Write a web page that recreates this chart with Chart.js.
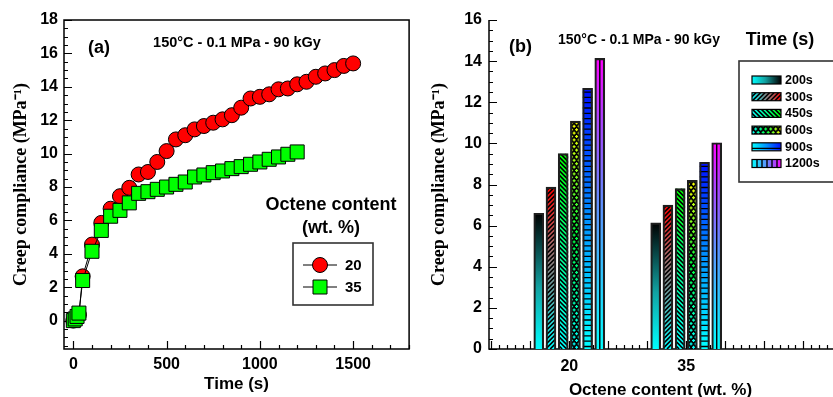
<!DOCTYPE html>
<html>
<head>
<meta charset="utf-8">
<script src="https://cdn.jsdelivr.net/npm/chart.js@4.4.1/dist/chart.umd.min.js"></script>
<style>
  html, body { margin: 0; padding: 0; background: #fff; }
  #wrap { position: relative; width: 833px; height: 397px; overflow: hidden; }
  #a { position: absolute; left: 0; top: 0; }
  #b { position: absolute; left: 420px; top: 0; }
</style>
</head>
<body>
<div id="wrap">
  <canvas id="a" width="420" height="397"></canvas>
  <canvas id="b" width="413" height="397"></canvas>
</div>
<script>
// ---- panel (a): creep compliance vs time ----
const time20 = [0, 10, 20, 30, 50, 100, 150, 200, 250, 300, 350, 400, 450, 500, 550, 600, 650, 700, 750,
  800, 850, 900, 950, 1000, 1050, 1100, 1150, 1200, 1250, 1300, 1350, 1400, 1450, 1500];
const comp20 = [0.0, 0.1, 0.2, 0.35, 2.65, 4.55, 5.85, 6.7, 7.45, 7.95, 8.75, 8.9, 9.5, 10.15, 10.85, 11.1,
  11.45, 11.65, 11.85, 12.05, 12.3, 12.75, 13.3, 13.4, 13.55, 13.85, 13.9, 14.15, 14.3, 14.6, 14.8, 15.0, 15.25, 15.4];
const time35 = [0, 10, 20, 30, 50, 100, 150, 200, 250, 300, 350, 400, 450, 500, 550, 600, 650, 700, 750,
  800, 850, 900, 950, 1000, 1050, 1100, 1150, 1200];
const comp35 = [0.0, 0.1, 0.25, 0.45, 2.4, 4.15, 5.4, 6.25, 6.6, 7.05, 7.62, 7.72, 7.86, 8.0, 8.16, 8.3,
  8.6, 8.72, 8.86, 8.96, 9.1, 9.22, 9.36, 9.5, 9.66, 9.8, 9.96, 10.1];
const xTicksA = [0, 500, 1000, 1500];
const yTicksA = [0, 2, 4, 6, 8, 10, 12, 14, 16, 18];

// ---- panel (b): compliance at fixed times ----
const octene = [20, 35];
const timeLabels = ['200s', '300s', '450s', '600s', '900s', '1200s'];
const bars20 = [6.6, 7.87, 9.5, 11.08, 12.68, 14.13];
const bars35 = [6.13, 7.0, 7.8, 8.2, 9.08, 10.03];
const yTicksB = [0, 2, 4, 6, 8, 10, 12, 14, 16];

const FONT = "'Liberation Sans', Arial, sans-serif";
const SERIF = "'Liberation Serif', 'Times New Roman', serif";
const YTITLE = 'Creep compliance (MPa\u207B\u00B9)';
Chart.defaults.font.family = FONT;
Chart.defaults.color = '#000';

// fill styles, gradient stops listed bottom (0) -> top (1)
const fills = [
  { kind: 'plain', stops: [[0, '#00ffff'], [0.45, '#12a2a2'], [0.8, '#063a3a'], [1, '#000000']] },
  { kind: 'fwd', stops: [[0, '#00ffff'], [0.4, '#6a9898'], [0.65, '#a86a6a'], [1, '#ff0000']] },
  { kind: 'back', stops: [[0, '#00ffff'], [0.5, '#00ff90'], [1, '#00ff00']] },
  { kind: 'dots', stops: [[0, '#00ffff'], [0.5, '#00ff40'], [1, '#ffff00']] },
  { kind: 'hlines', stops: [[0, '#00ffff'], [0.5, '#0090ff'], [1, '#0010ff']] },
  { kind: 'vlines', stops: [[0, '#00ffff'], [0.5, '#6090ff'], [0.8, '#b040ff'], [1, '#ff00ff']] }
];

function paintFill(g, st, x, y, w, h, horiz) {
  if (h <= 0 || w <= 0) return;
  g.save();
  g.beginPath();
  g.rect(x, y, w, h);
  g.clip();
  const grd = horiz ? g.createLinearGradient(x, 0, x + w, 0) : g.createLinearGradient(0, y + h, 0, y);
  st.stops.forEach(s => grd.addColorStop(s[0], s[1]));
  g.fillStyle = st.kind === 'dots' ? '#000' : grd;
  g.fillRect(x, y, w, h);
  g.strokeStyle = '#000';
  g.beginPath();
  if (st.kind === 'fwd' || st.kind === 'back') {
    g.lineWidth = 1.6;
    for (let k = -h - 5; k < w + h + 5; k += 4.5) {
      if (st.kind === 'fwd') { g.moveTo(x + k, y + h); g.lineTo(x + k + h, y); }
      else { g.moveTo(x + k, y); g.lineTo(x + k + h, y + h); }
    }
    g.stroke();
  } else if (st.kind === 'hlines') {
    g.lineWidth = 1.3;
    for (let yy = y + h - 2.5; yy > y + 2; yy -= 5.3) { g.moveTo(x, yy); g.lineTo(x + w, yy); }
    g.stroke();
  } else if (st.kind === 'vlines') {
    g.lineWidth = 1.4;
    for (let xx = x + 5; xx < x + w - 1; xx += 5) { g.moveTo(xx, y); g.lineTo(xx, y + h); }
    g.stroke();
  } else if (st.kind === 'dots') {
    g.fillStyle = grd;
    let row = 0;
    for (let yy = y + h - 1.7; yy > y - 2; yy -= 3.4, row++) {
      for (let xx = x + (row % 2 ? 3.7 : 1.2); xx < x + w + 2; xx += 5) {
        g.fillRect(xx - 1.5, yy - 0.6, 3, 1.2);
        g.fillRect(xx - 0.6, yy - 1.5, 1.2, 3);
      }
    }
  }
  g.restore();
}

// inward tick marks and axis frame
const frameTicks = {
  id: 'frameTicks',
  beforeDatasetsDraw(chart, args, o) {
    const g = chart.ctx, a = chart.chartArea;
    const xs = chart.scales.x, ys = chart.scales.y;
    g.save();
    g.strokeStyle = '#000';
    g.lineWidth = 1.2;
    g.beginPath();
    const n = Math.round((o.x.to - o.x.from) / o.x.minor);
    for (let k = 0; k <= n; k++) {
      const v = o.x.from + k * o.x.minor;
      const major = Math.abs(v / o.x.major - Math.round(v / o.x.major)) < 1e-6;
      const p = Math.round(xs.getPixelForValue(v)) + 0.5;
      g.moveTo(p, a.bottom);
      g.lineTo(p, a.bottom - (major ? 8 : 4));
    }
    const m = Math.round((o.y.to - o.y.from) / o.y.minor);
    for (let k = 0; k <= m; k++) {
      const v = o.y.from + k * o.y.minor;
      const major = Math.abs(v / o.y.major - Math.round(v / o.y.major)) < 1e-6;
      const p = Math.round(ys.getPixelForValue(v)) + 0.5;
      g.moveTo(a.left, p);
      g.lineTo(a.left + (major ? 8 : 4), p);
    }
    g.stroke();
    g.lineWidth = 1.5;
    g.beginPath();
    if (o.box) {
      g.rect(a.left, a.top, a.right - a.left, a.bottom - a.top);
    } else {
      g.moveTo(a.left, a.top);
      g.lineTo(a.left, a.bottom);
      g.lineTo(a.right + 2, a.bottom);
    }
    g.stroke();
    g.restore();
  }
};

const notes = {
  id: 'notes',
  afterDraw(chart, args, o) {
    const g = chart.ctx;
    g.save();
    g.fillStyle = '#000';
    g.textBaseline = 'middle';
    o.items.forEach(t => {
      g.font = 'bold ' + t.size + 'px ' + FONT;
      g.textAlign = t.align || 'center';
      g.fillText(t.text, t.x, t.y);
    });
    g.restore();
  }
};

const legendA = {
  id: 'legendA',
  afterDraw(chart, args, o) {
    const g = chart.ctx;
    g.save();
    g.fillStyle = '#000';
    g.textAlign = 'center';
    g.textBaseline = 'middle';
    g.font = 'bold 18px ' + FONT;
    g.fillText('Octene content', o.cx, o.t1);
    g.fillText('(wt. %)', o.cx, o.t2);
    g.strokeStyle = '#333';
    g.lineWidth = 1.6;
    g.strokeRect(o.box[0], o.box[1], o.box[2], o.box[3]);
    chart.data.datasets.forEach((ds, i) => {
      const yy = o.rows[i];
      g.strokeStyle = '#000';
      g.lineWidth = 1;
      g.beginPath();
      g.moveTo(o.lx0, yy);
      g.lineTo(o.lx1, yy);
      g.stroke();
      const mx = (o.lx0 + o.lx1) / 2;
      g.fillStyle = ds.pointBackgroundColor;
      g.beginPath();
      if (ds.pointStyle === 'rect') g.rect(mx - 7, yy - 7, 14, 14);
      else g.arc(mx, yy, 7.5, 0, Math.PI * 2);
      g.fill();
      g.stroke();
      g.fillStyle = '#000';
      g.textAlign = 'left';
      g.font = 'bold 15px ' + FONT;
      g.fillText(ds.label, o.tx, yy + 1);
    });
    g.restore();
  }
};

const chartA = new Chart(document.getElementById('a'), {
  type: 'line',
  data: {
    datasets: [
      {
        label: '20',
        data: time20.map((t, i) => ({ x: t, y: comp20[i] })),
        order: 1,
        borderColor: '#000', borderWidth: 1, tension: 0, fill: false,
        pointStyle: 'circle', pointRadius: 7.5,
        pointBackgroundColor: '#ff0000', pointBorderColor: '#000', pointBorderWidth: 1
      },
      {
        label: '35',
        data: time35.map((t, i) => ({ x: t, y: comp35[i] })),
        order: 0,
        borderColor: '#000', borderWidth: 1, tension: 0, fill: false,
        pointStyle: 'rect', pointRadius: 9.9,
        pointBackgroundColor: '#00ff00', pointBorderColor: '#000', pointBorderWidth: 1
      }
    ]
  },
  options: {
    responsive: false,
    animation: false,
    events: [],
    layout: { padding: { left: 0, top: 20, right: 5, bottom: 0 } },
    plugins: {
      legend: { display: false },
      tooltip: { enabled: false },
      frameTicks: { box: true, x: { from: 0, to: 1800, minor: 100, major: 500 }, y: { from: -1.5, to: 18, minor: 0.5, major: 2 } },
      notes: { items: [
        { text: '(a)', x: 99, y: 48, size: 18 },
        { text: '150\u00B0C - 0.1 MPa - 90 kGy', x: 237, y: 43, size: 14.5 }
      ] },
      legendA: { cx: 331, t1: 205, t2: 228, box: [293, 243, 80, 62], rows: [265, 287], lx0: 303, lx1: 337, tx: 345 }
    },
    scales: {
      x: {
        type: 'linear', min: -50, max: 1800,
        afterBuildTicks: s => { s.ticks = xTicksA.map(v => ({ value: v })); },
        afterFit: s => { s.height = 48; },
        grid: { display: false, drawTicks: false },
        border: { display: false },
        ticks: { font: { size: 16, weight: 'bold' }, padding: 6.4, maxRotation: 0, autoSkip: false, callback: v => String(v) },
        title: { display: true, text: 'Time (s)', font: { size: 17, weight: 'bold', lineHeight: 1.2 }, padding: { top: 0, bottom: 2.8 } }
      },
      y: {
        type: 'linear', min: -1.7, max: 18,
        afterBuildTicks: s => { s.ticks = yTicksA.map(v => ({ value: v })); },
        afterFit: s => { s.width = 64; },
        grid: { display: false, drawTicks: false },
        border: { display: false },
        ticks: { font: { size: 16, weight: 'bold' }, padding: 6, autoSkip: false, callback: v => String(v) },
        title: { display: true, text: YTITLE, font: { family: SERIF, size: 18, weight: 'bold', lineHeight: 1.2 }, padding: { top: 10.2, bottom: 0 } }
      }
    }
  },
  plugins: [frameTicks, notes, legendA]
});

// ---- panel (b) ----
const barFill = {
  id: 'barFill',
  beforeDatasetDraw(chart, args) {
    const g = chart.ctx;
    const st = fills[args.index];
    args.meta.data.forEach(el => {
      const p = el.getProps(['x', 'y', 'base', 'width'], true);
      paintFill(g, st, p.x - p.width / 2, p.y, p.width, p.base - p.y, false);
    });
  }
};

const legendB = {
  id: 'legendB',
  afterDraw(chart, args, o) {
    const g = chart.ctx;
    g.save();
    g.fillStyle = '#000';
    g.textBaseline = 'middle';
    g.textAlign = 'center';
    g.font = 'bold 18px ' + FONT;
    g.fillText('Time (s)', o.cx, o.ty);
    g.strokeStyle = '#333';
    g.lineWidth = 1.6;
    g.strokeRect(o.box[0], o.box[1], o.box[2], o.box[3]);
    chart.data.datasets.forEach((ds, i) => {
      const yy = o.row0 + i * o.dy;
      paintFill(g, fills[i], o.sx, yy - 4, 29, 8, true);
      g.strokeStyle = '#000';
      g.lineWidth = 1.2;
      g.strokeRect(o.sx, yy - 4, 29, 8);
      g.fillStyle = '#000';
      g.textAlign = 'left';
      g.font = 'bold 12.5px ' + FONT;
      g.fillText(ds.label, o.tx, yy + 0.5);
    });
    g.restore();
  }
};

const chartB = new Chart(document.getElementById('b'), {
  type: 'bar',
  data: {
    datasets: timeLabels.map((lab, i) => ({
      label: lab,
      data: octene.map((o, j) => ({ x: o, y: j === 0 ? bars20[i] : bars35[i] })),
      backgroundColor: 'rgba(0,0,0,0)',
      borderColor: '#1e1e1e',
      borderWidth: 1.5,
      barThickness: 12.2,
      maxBarThickness: 10
    }))
  },
  options: {
    responsive: false,
    animation: false,
    events: [],
    layout: { padding: { left: 0, top: 20, right: 1, bottom: 0 } },
    plugins: {
      legend: { display: false },
      tooltip: { enabled: false },
      frameTicks: { box: false, x: { from: 10, to: 53, minor: 1, major: 5 }, y: { from: 0, to: 16, minor: 0.5, major: 2 } },
      notes: { items: [
        { text: '(b)', x: 100.5, y: 47, size: 18 },
        { text: '150\u00B0C - 0.1 MPa - 90 kGy', x: 219, y: 40, size: 14 }
      ] },
      legendB: { cx: 360, ty: 40, box: [319, 61, 110, 121], sx: 332, row0: 80, dy: 16.7, tx: 365 }
    },
    scales: {
      x: {
        type: 'linear', offset: false, min: 9.7, max: 53.7,
        afterBuildTicks: s => { s.ticks = octene.map(v => ({ value: v })); },
        afterFit: s => { s.height = 48; },
        grid: { display: false, drawTicks: false, offset: false },
        border: { display: false },
        ticks: { font: { size: 16, weight: 'bold' }, padding: 8.4, maxRotation: 0, autoSkip: false, callback: v => String(v) },
        title: { display: true, text: 'Octene content (wt. %)', font: { size: 17, weight: 'bold', lineHeight: 0.8 }, padding: { top: 0, bottom: 0 } }
      },
      y: {
        type: 'linear', min: 0, max: 16,
        afterBuildTicks: s => { s.ticks = yTicksB.map(v => ({ value: v })); },
        afterFit: s => { s.width = 69; },
        grid: { display: false, drawTicks: false },
        border: { display: false },
        ticks: { font: { size: 16, weight: 'bold' }, padding: 7, autoSkip: false, callback: v => String(v) },
        title: { display: true, text: YTITLE, font: { family: SERIF, size: 18, weight: 'bold', lineHeight: 1.2 }, padding: { top: 8.2, bottom: 0 } }
      }
    }
  },
  plugins: [frameTicks, barFill, notes, legendB]
});
</script>
</body>
</html>
